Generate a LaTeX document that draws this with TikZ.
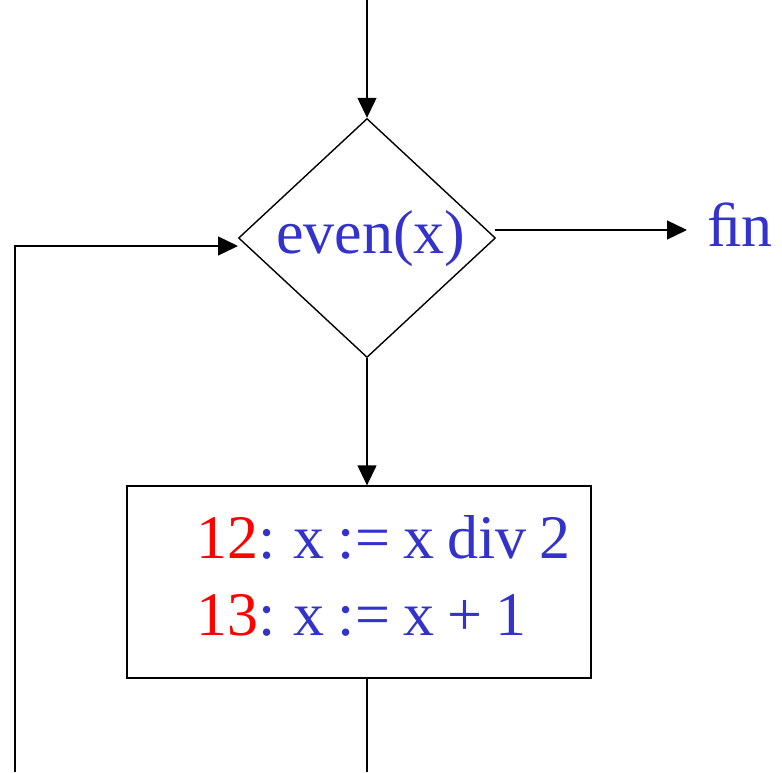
\documentclass[tikz,border=0pt]{standalone}
\usepackage{fontspec}
\setmainfont[WordSpace=0.85]{Liberation Serif}
\usetikzlibrary{arrows.meta,shapes.geometric}
\definecolor{codeblue}{RGB}{51,51,204}
\definecolor{labred}{RGB}{255,0,0}
\tikzset{
  conn/.style={line width=1.3pt, draw=black},
  arr/.style={conn, -{Triangle[length=20pt,width=19pt]}},
  bigtext/.style={font=\fontsize{62}{70}\selectfont, text=codeblue, inner sep=0pt, anchor=base west},
}
\begin{document}
\begin{tikzpicture}[x=1pt,y=-1pt]
\useasboundingbox (0,0) rectangle (782,772);
\node[draw, diamond, line width=1.4pt, minimum width=257pt, minimum height=239pt, inner sep=0pt] (d) at (367,238) {};
\node[bigtext] (dl) at (276,253) {even(x)};
\node[draw, rectangle, line width=1.3pt, minimum width=464pt, minimum height=192pt, inner sep=0pt] (box) at (359,582) {};
\node[bigtext] (l1) at (196,558) {\textcolor{labred}{12}: x := x div 2};
\node[bigtext] (l2) at (196,635) {\textcolor{labred}{13}: x := x + 1};
\node[bigtext] (fin) at (707,246) {\symbol{"FB01}n};
\coordinate (top) at (367,0);
\coordinate (rs) at (495,230);
\coordinate (re) at (687,230);
\coordinate (lin) at (238,246);
\coordinate (bl) at (15,772);
\coordinate (bb) at (367,772);
\draw[arr] (top) -- (d.north);
\draw[arr] (d.south) -- (d.south |- box.north);
\draw[arr] (rs) -- (re);
\draw[arr] (bl) |- (lin);
\draw[conn] (box.south -| bb) -- (bb);
\end{tikzpicture}
\end{document}
